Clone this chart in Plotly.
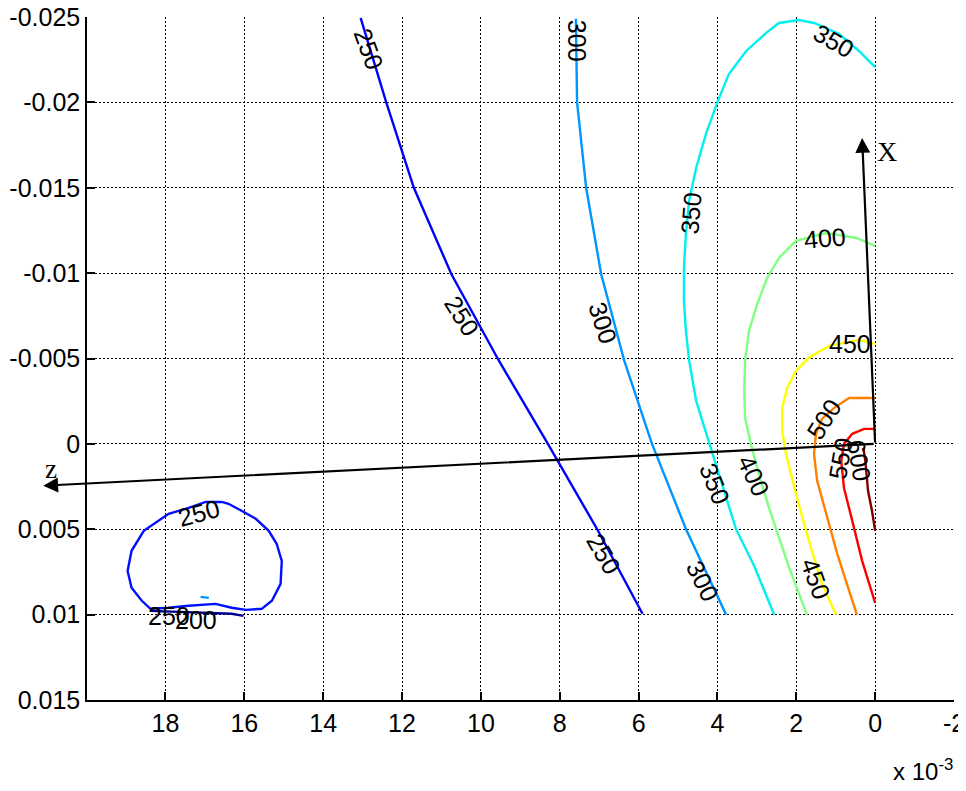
import plotly.graph_objects as go

# ---- data (x in units of 1e-3 m, y in m) ----
c250_x = [13.05, 12.4, 11.7, 10.75, 9.55, 8.3, 7.05, 5.9]
c250_y = [-0.02495, -0.0200, -0.0150, -0.00995, -0.0049, 0.0, 0.0050, 0.00995]

c300_x = [7.59, 7.56, 7.33, 6.95, 6.37, 5.66, 4.80, 3.78]
c300_y = [-0.0249, -0.0200, -0.0150, -0.00995, -0.00492, 0.0, 0.00498, 0.0100]

c350_x = [0.0, 0.41, 0.91, 1.55, 1.93, 2.44, 2.77, 3.27, 3.71, 4.01, 4.29, 4.54, 4.72, 4.80,
          4.85, 4.85, 4.80, 4.72, 4.54, 4.21, 3.91, 3.53, 3.07, 2.56]
c350_y = [-0.02207, -0.02301, -0.0240, -0.02465, -0.02482, -0.02465, -0.02406, -0.02301,
          -0.02166, -0.01996, -0.01815, -0.01616, -0.01423, -0.0123, -0.0103, -0.00837,
          -0.00662, -0.00492, -0.00252, 0.0, 0.00217, 0.00498, 0.00714, 0.01001]

c400_x = [0.0, 0.48, 1.24, 2.01, 2.44, 2.74, 2.99, 3.20, 3.30, 3.32, 3.30, 3.15, 2.94, 2.69, 2.18, 1.73]
c400_y = [-0.01159, -0.01206, -0.01235, -0.01189, -0.01089, -0.00972, -0.0082, -0.00662,
          -0.00486, -0.0031, -0.00152, 0.0, 0.00187, 0.00375, 0.00726, 0.01001]

c450_x = [0.0, 0.41, 1.17, 1.68, 2.01, 2.23, 2.36, 2.36, 2.26, 2.01, 1.68, 1.35, 0.99]
c450_y = [-0.00585, -0.00609, -0.00574, -0.00504, -0.00427, -0.00328, -0.00211, -0.00076,
          0.00059, 0.00293, 0.00568, 0.0082, 0.01001]

c500_x = [0.0, 0.66, 1.04, 1.35, 1.50, 1.55, 1.47, 1.24, 0.96, 0.66, 0.46]
c500_y = [-0.00269, -0.00269, -0.00211, -0.00146, -0.00059, 0.00059, 0.00217, 0.0041,
          0.00644, 0.00861, 0.01001]

c550_x = [0.0, 0.28, 0.58, 0.79, 0.86, 0.79, 0.58, 0.33, 0.0]
c550_y = [-0.00088, -0.00088, -0.00059, 0.0, 0.0010, 0.00258, 0.00451, 0.00685, 0.00931]

c600_x = [0.30, 0.25, 0.18, 0.08, 0.0]
c600_y = [0.00023, 0.0010, 0.00275, 0.00392, 0.00509]

loop250_x = [16.57, 16.98, 17.41, 17.92, 18.55, 18.86, 18.96, 18.86, 18.60, 18.38, 17.92, 17.41,
             16.73, 16.32, 15.96, 15.56, 15.30, 15.08, 15.05, 15.18, 15.38, 15.71, 16.07, 16.40, 16.57]
loop250_y = [0.0034, 0.0034, 0.00375, 0.0041, 0.00509, 0.00626, 0.00744, 0.00843, 0.00919,
             0.00966, 0.0096, 0.00948, 0.00937, 0.0096, 0.00972, 0.00966, 0.00919, 0.0082,
             0.00685, 0.00585, 0.00509, 0.00439, 0.00392, 0.00351, 0.0034]

c200_x = [18.38, 17.41, 16.73, 16.32, 16.02]
c200_y = [0.00978, 0.00984, 0.00989, 0.00995, 0.01007]

blob_x = [17.11, 16.90]
blob_y = [0.00896, 0.00902]

contours = [
    ("250", c250_x, c250_y, "#0000ff"),
    ("300", c300_x, c300_y, "#0096ff"),
    ("350", c350_x, c350_y, "#00f0f0"),
    ("400", c400_x, c400_y, "#80ff80"),
    ("450", c450_x, c450_y, "#ffff00"),
    ("500", c500_x, c500_y, "#ff8000"),
    ("550", c550_x, c550_y, "#ff0000"),
    ("600", c600_x, c600_y, "#800000"),
    ("250", loop250_x, loop250_y, "#0010ff"),
    ("200", c200_x, c200_y, "#00008f"),
    ("300", blob_x, blob_y, "#0096ff"),
]

# contour labels: text, x, y, angle
lab_text = ["250", "250", "250", "300", "300", "300", "350", "350", "350", "400", "400",
            "450", "450", "500", "550", "600", "250", "250", "200"]
lab_x = [12.84, 10.48, 6.88, 7.56, 6.90, 4.37, 1.04, 4.67, 4.06, 1.27, 3.07,
         0.63, 1.50, 1.30, 0.88, 0.40, 17.16, 17.92, 17.23]
lab_y = [-0.02313, -0.00749, 0.00644, -0.0236, -0.00708, 0.00802, -0.0236, -0.01352, 0.00234,
         -0.01206, 0.00187, -0.00585, 0.0079, -0.00146, 0.00082, 0.0010, 0.00404, 0.01007, 0.0103]
lab_ang = [70, 58, 60, 90, 72, 63, 30, -85, 68, -5, 65, 0, 70, -58, -80, 80, -15, 0, 0]

# axis arrows (tail at origin) and their labels
arrow_z = (21.1, 0.00245)
arrow_X = (0.33, -0.01792)
label_z = (20.91, 0.00146)
label_X = (-0.30, -0.01715)

xticks = [18, 16, 14, 12, 10, 8, 6, 4, 2, 0, -2]
yticks = [-0.025, -0.02, -0.015, -0.01, -0.005, 0, 0.005, 0.01, 0.015]
yticktext = ["-0.025", "-0.02", "-0.015", "-0.01", "-0.005", "0", "0.005", "0.01", "0.015"]

XR = [19.99, -2.0]
YR = [0.015, -0.025]
W, H = 958, 783
ML, MR, MT, MB = 79, 12, 9, 91
PW, PH = W - ML - MR, H - MT - MB


def to_paper(x, y):
    return (x - XR[0]) / (XR[1] - XR[0]), (YR[0] - y) / (YR[0] - YR[1])


fig = go.Figure()
for name, xs, ys, col in contours:
    fig.add_trace(go.Scatter(x=xs, y=ys, mode="lines", line=dict(color=col, width=2.4),
                             showlegend=False, hoverinfo="skip"))

FONT = "Liberation Sans, Arial, sans-serif"
SERIF = "Liberation Serif, Times New Roman, serif"
for t, x, y, a in zip(lab_text, lab_x, lab_y, lab_ang):
    fig.add_annotation(x=x, y=y, text=t, showarrow=False, textangle=a,
                       xanchor="center", yanchor="middle",
                       font=dict(family=FONT, size=25, color="black"))

# arrows: positioned in paper coordinates computed from the data values
ox, oy = to_paper(0, 0)
for (hx, hy) in (arrow_z, arrow_X):
    px, py = to_paper(hx, hy)
    fig.add_annotation(x=px, y=py, xref="paper", yref="paper", text="",
                       showarrow=True, arrowhead=2, arrowsize=1.35, arrowwidth=2.2,
                       arrowcolor="black",
                       ax=(ox - px) * PW, ay=-(oy - py) * PH)

zx, zy = to_paper(*label_z)
fig.add_annotation(x=zx, y=zy, xref="paper", yref="paper", text="z", showarrow=False,
                   xanchor="center", yanchor="middle",
                   font=dict(family=SERIF, size=27, color="black"))
Xx, Xy = to_paper(*label_X)
fig.add_annotation(x=Xx, y=Xy, xref="paper", yref="paper", text="X", showarrow=False,
                   xanchor="center", yanchor="middle",
                   font=dict(family=SERIF, size=28, color="black"))

fig.add_annotation(x=1.0012, y=-0.103, xref="paper", yref="paper", xanchor="right", yanchor="middle",
                   text="x 10<sup>-3</sup>", showarrow=False,
                   font=dict(family=FONT, size=24, color="black"))

axis_common = dict(showgrid=True, gridcolor="black", gridwidth=1, griddash="2px,2px",
                   zeroline=False, showline=True, linecolor="black", linewidth=1.5,
                   ticks="inside", ticklen=8, tickcolor="black", tickwidth=1.5,
                   automargin=False, ticklabeloverflow="allow",
                   tickfont=dict(family=FONT, size=25, color="black"))

fig.update_xaxes(range=XR, tickmode="array", tickvals=xticks,
                 ticktext=[str(v) for v in xticks], **axis_common)
fig.update_yaxes(range=YR, tickmode="array", tickvals=yticks, ticktext=yticktext, **axis_common)

fig.update_layout(width=W, height=H, margin=dict(l=ML, r=MR, t=MT, b=MB, pad=0),
                  paper_bgcolor="white", plot_bgcolor="white", showlegend=False)

fig.write_html("out.html")
